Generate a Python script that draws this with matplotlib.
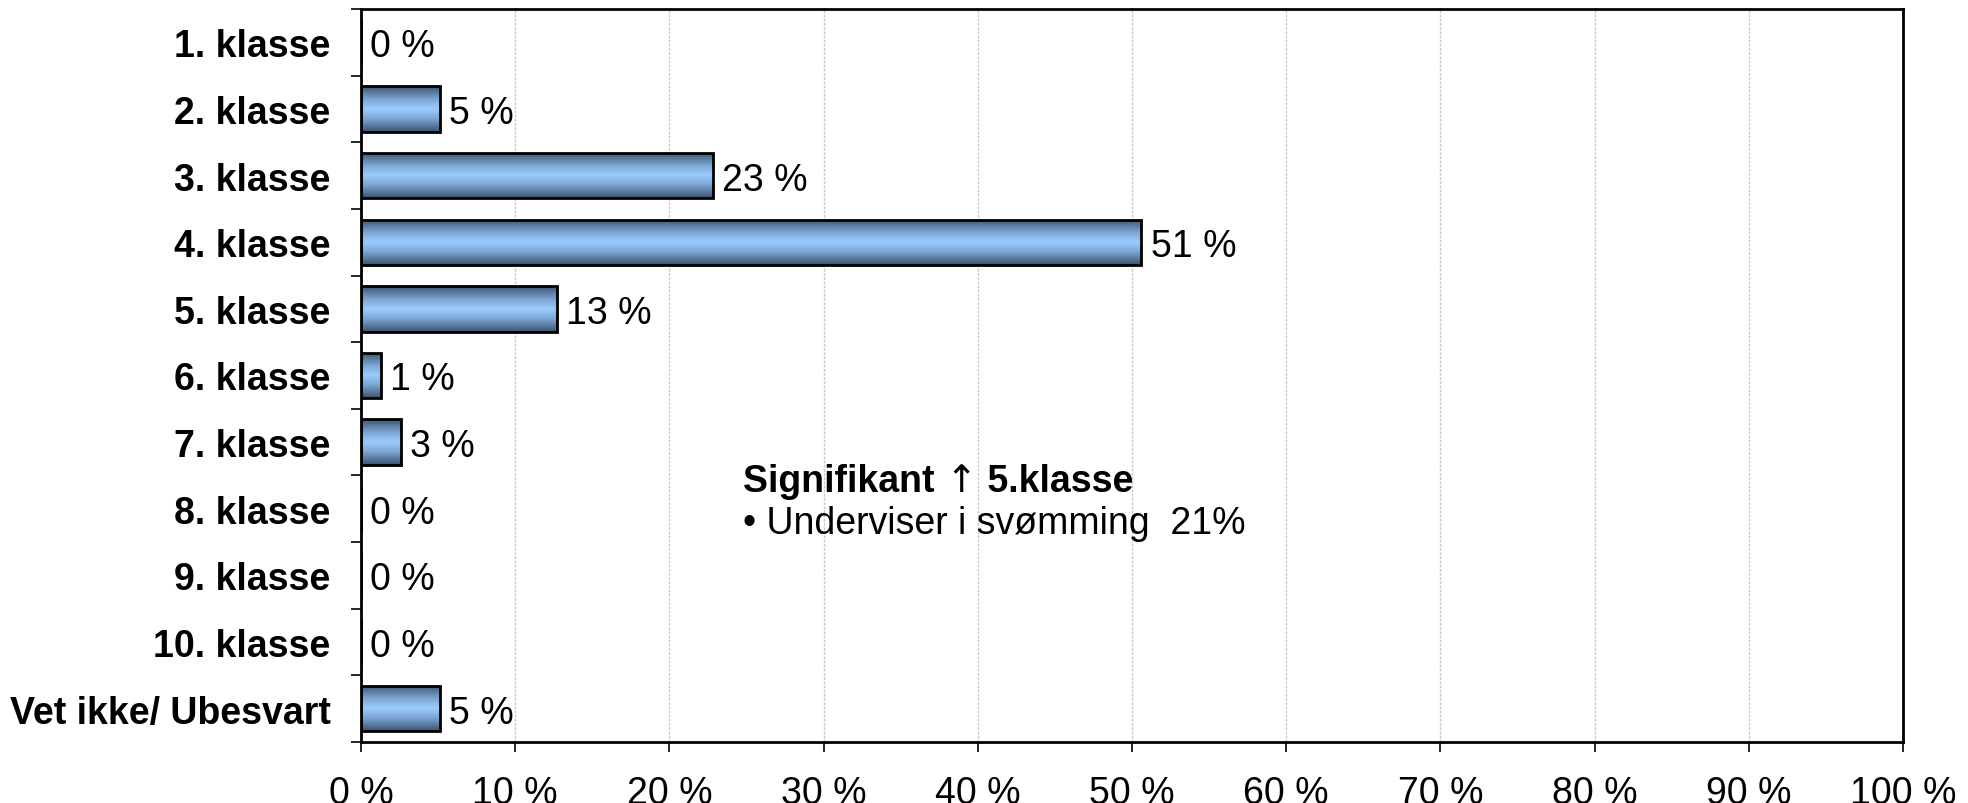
import numpy as np
import matplotlib
matplotlib.use("Agg")
import matplotlib.pyplot as plt
from matplotlib.colors import LinearSegmentedColormap
from matplotlib.transforms import offset_copy

plt.rcParams['font.family'] = ['Liberation Sans', 'DejaVu Sans']

categories = ["1. klasse", "2. klasse", "3. klasse", "4. klasse", "5. klasse",
              "6. klasse", "7. klasse", "8. klasse", "9. klasse", "10. klasse",
              "Vet ikke/ Ubesvart"]
values = [0, 5.1, 22.8, 50.6, 12.7, 1.3, 2.6, 0, 0, 0, 5.1]
xticks = [0, 10, 20, 30, 40, 50, 60, 70, 80, 90, 100]
xticklabels = [f"{t} %" for t in xticks]
note_parts = ["Signifikant ", "\u2191", " 5.klasse"]
note_line = "\u2022 Underviser i sv\u00f8mming  21%"

FS = 27

fig = plt.figure(figsize=(19.68, 8.04), dpi=100)
ax = fig.add_axes([361/1968, 1-743/804, (1903-361)/1968, (743-10)/804])

y = np.arange(len(categories))
bars = ax.barh(y, values, height=0.68, color='none', edgecolor='black', linewidth=2.0, zorder=3)

cmap = LinearSegmentedColormap.from_list('g', [(0, '#3a5270'), (0.3, '#7fa9d6'), (0.5, '#99ccff'),
                                               (0.7, '#7fa9d6'), (1, '#3a5270')])
grad = np.linspace(0, 1, 256).reshape(-1, 1)
for b in bars:
    w = b.get_width()
    if w <= 0:
        continue
    x0, y0 = b.get_x(), b.get_y()
    h = b.get_height()
    im = ax.imshow(grad, cmap=cmap, aspect='auto', extent=[x0, x0 + w, y0 + h, y0],
                   zorder=2, interpolation='bilinear')
    im.set_clip_path(b)

for yi, v in zip(y, values):
    ax.text(v + 0.6, yi, f"{round(v)} %", va='center_baseline', ha='left', fontsize=FS, zorder=4)

ax.set_xlim(0, 100)
ax.set_ylim(len(categories) - 0.5, -0.5)
ax.set_xticks(xticks)
ax.set_xticklabels(xticklabels, fontsize=FS)
ax.set_yticks(y)
ax.set_yticklabels(categories, fontsize=FS, fontweight='bold')
ax.tick_params(axis='y', length=0, pad=22)
ax.set_yticks(np.arange(-0.5, len(categories), 1), minor=True)
ax.tick_params(axis='y', which='minor', length=7, width=1.2, direction='out')
ax.tick_params(axis='x', length=7, width=1.2, direction='out', pad=17)

ax.xaxis.grid(True, color='#c8c8c8', linestyle=(0, (2, 1)), linewidth=1.0, zorder=0)
ax.set_axisbelow(True)
for s in ax.spines.values():
    s.set_linewidth(2.0)
    s.set_color('black')

# annotation title, built in parts so the arrow can use a thin glyph
fig.canvas.draw()
renderer = fig.canvas.get_renderer()
xoff = 0.0
styles = [dict(fontweight='bold', family=['Liberation Sans']),
          dict(fontweight='normal', family=['DejaVu Sans']),
          dict(fontweight='bold', family=['Liberation Sans'])]
for part, st in zip(note_parts, styles):
    tr = offset_copy(ax.transData, fig=fig, x=xoff, y=0, units='dots')
    t = ax.text(24.8, 6.73, part, fontsize=FS, va='baseline', ha='left', transform=tr, **st)
    bb = t.get_window_extent(renderer=renderer)
    xoff += bb.width

ax.text(24.8, 7.37, note_line, fontsize=FS, va='baseline', ha='left')

fig.savefig("out.png", dpi=100)
